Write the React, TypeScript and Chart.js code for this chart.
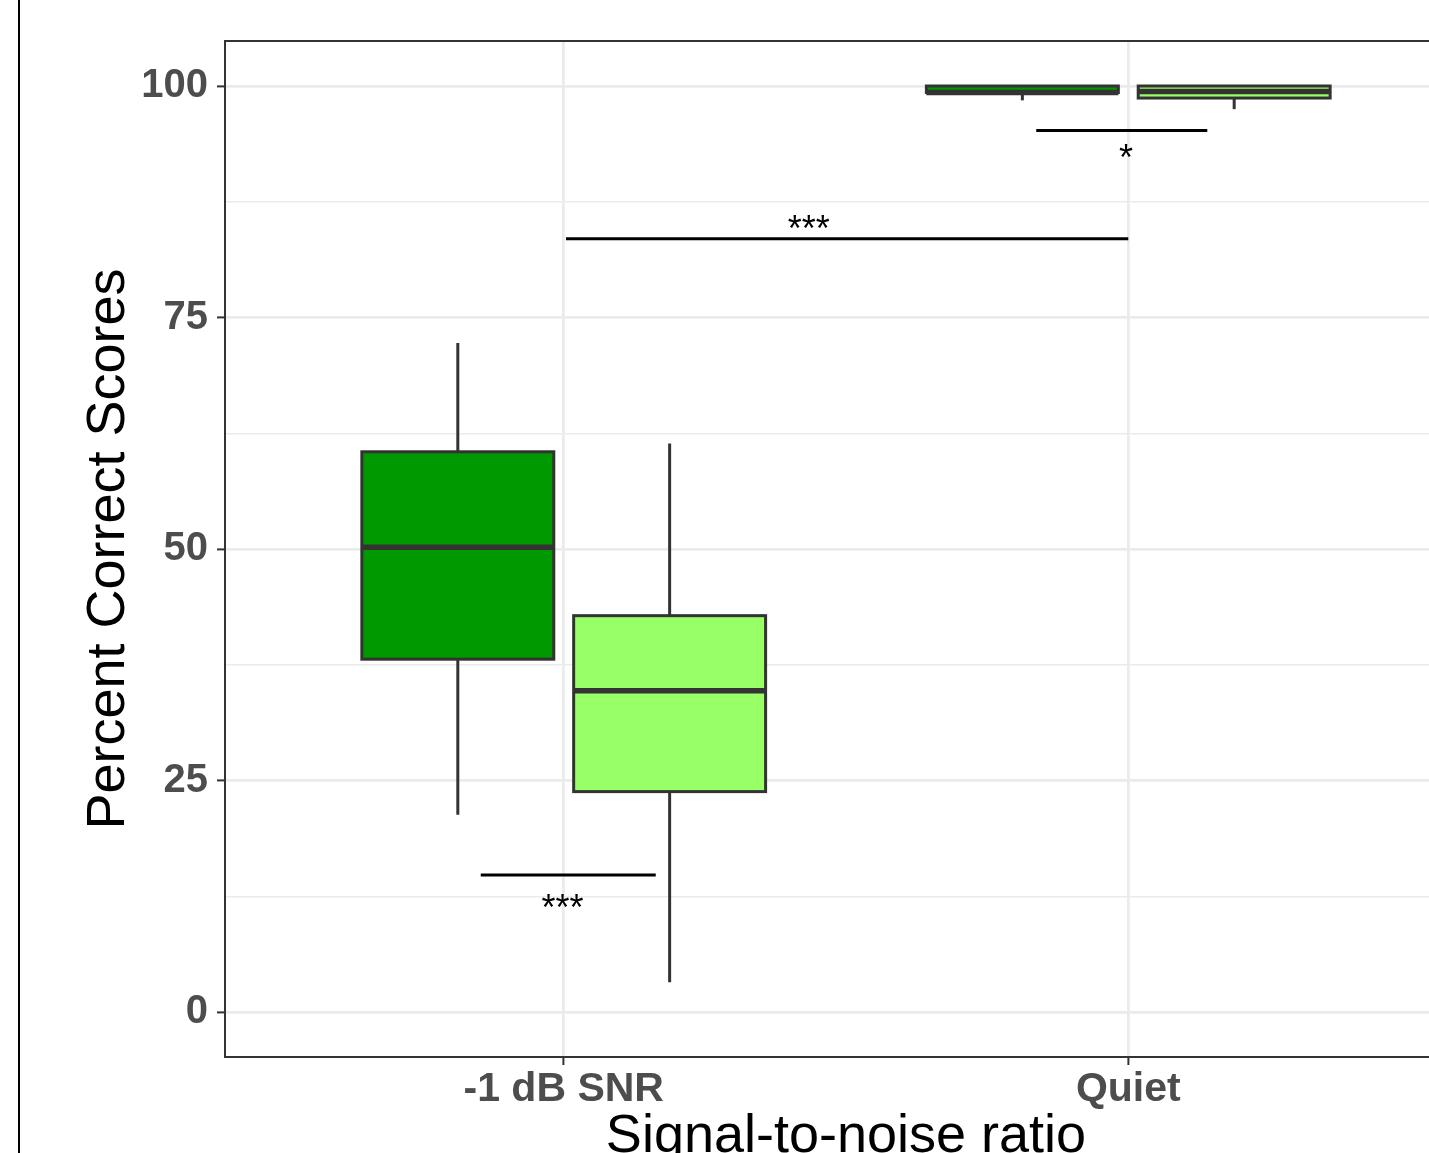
import React, { useEffect, useRef } from 'react';
import { Chart, registerables } from 'chart.js';

Chart.register(...registerables);

// ---- data ----
const categories = ['-1 dB SNR', 'Quiet'];

const darkMin = [21.3, 98.45];
const darkQ1 = [38.1, 99.3];
const darkMedian = [50.2, 99.3];
const darkQ3 = [60.5, 100];
const darkMax = [72.25, 100];

const lightMin = [3.2, 97.5];
const lightQ1 = [23.8, 98.7];
const lightMedian = [34.7, 99.4];
const lightQ3 = [42.8, 100];
const lightMax = [61.4, 100];

const yTickValues = [0, 25, 50, 75, 100];
const yMinorValues = [12.5, 37.5, 62.5, 87.5];

const sigLabels = ['***', '***', '*'];
const sigStart = [0.853, 1.004, 1.837];
const sigEnd = [1.163, 2.0, 2.14];
const sigLevel = [14.8, 83.5, 95.2];
const sigLabelX = [0.998, 1.434, 1.996];
const sigLabelY = [11.0, 84.3, 92.0];

// ---- styles ----
const DODGE = 0.1876;
const BOX_W = 0.34;
const DARK = '#009900';
const LIGHT = '#99FF66';
const EDGE = '#333333';
const FONT = '"Liberation Sans", Arial, Helvetica, sans-serif';

const boxPlugin = {
  id: 'boxes',
  afterDatasetsDraw(chart: any) {
    const { ctx, scales } = chart;
    const x = scales.x;
    const y = scales.y;
    const groups = [
      { fill: DARK, off: -DODGE, min: darkMin, q1: darkQ1, med: darkMedian, q3: darkQ3, max: darkMax },
      { fill: LIGHT, off: DODGE, min: lightMin, q1: lightQ1, med: lightMedian, q3: lightQ3, max: lightMax },
    ];
    ctx.save();
    groups.forEach((g) => {
      categories.forEach((_, i) => {
        const cx = i + 1 + g.off;
        const xl = x.getPixelForValue(cx - BOX_W / 2);
        const xr = x.getPixelForValue(cx + BOX_W / 2);
        const xc = x.getPixelForValue(cx);
        const yMax = y.getPixelForValue(g.max[i]);
        const yMin = y.getPixelForValue(g.min[i]);
        const yQ3 = y.getPixelForValue(g.q3[i]);
        const yQ1 = y.getPixelForValue(g.q1[i]);
        const yMed = y.getPixelForValue(g.med[i]);
        ctx.strokeStyle = EDGE;
        ctx.lineWidth = 3;
        ctx.lineCap = 'butt';
        ctx.beginPath();
        ctx.moveTo(xc, yQ3);
        ctx.lineTo(xc, yMax);
        ctx.moveTo(xc, yQ1);
        ctx.lineTo(xc, yMin);
        ctx.stroke();
        ctx.fillStyle = g.fill;
        ctx.fillRect(xl, yQ3, xr - xl, yQ1 - yQ3);
        ctx.strokeRect(xl, yQ3, xr - xl, yQ1 - yQ3);
        ctx.lineWidth = 5.5;
        ctx.beginPath();
        ctx.moveTo(xl, yMed);
        ctx.lineTo(xr, yMed);
        ctx.stroke();
      });
    });
    ctx.fillStyle = '#000000';
    ctx.font = `36px ${FONT}`;
    ctx.textAlign = 'center';
    ctx.textBaseline = 'middle';
    sigLabels.forEach((t, i) => {
      ctx.fillText(t, x.getPixelForValue(sigLabelX[i]), y.getPixelForValue(sigLabelY[i]));
    });
    ctx.restore();
  },
  afterDraw(chart: any) {
    const { ctx, chartArea: a } = chart;
    ctx.save();
    ctx.strokeStyle = EDGE;
    ctx.lineWidth = 2;
    ctx.strokeRect(a.left, a.top, a.right - a.left, a.bottom - a.top);
    ctx.restore();
  },
};

export default function App() {
  const ref = useRef<HTMLCanvasElement | null>(null);

  useEffect(() => {
    if (!ref.current) return;
    const datasets = sigLabels.map((_, i) => ({
      data: [
        { x: sigStart[i], y: sigLevel[i] },
        { x: sigEnd[i], y: sigLevel[i] },
      ],
      showLine: true,
      borderColor: '#000000',
      borderWidth: 3,
      pointRadius: 0,
      fill: false,
    }));
    const chart = new Chart(ref.current, {
      type: 'scatter',
      data: { datasets },
      options: {
        animation: false,
        responsive: false,
        devicePixelRatio: 1,
        layout: { padding: { top: 41, left: 0, right: 23, bottom: 0 } },
        plugins: { legend: { display: false }, tooltip: { enabled: false } },
        scales: {
          x: {
            type: 'linear',
            min: 0.4,
            max: 2.6,
            afterBuildTicks: (s: any) => {
              s.ticks = categories.map((_, i) => ({ value: i + 1 }));
            },
            afterFit: (s: any) => {
              s.height = 143;
            },
            ticks: {
              autoSkip: false,
              maxRotation: 0,
              padding: 0,
              color: '#4D4D4D',
              font: { family: FONT, size: 41, weight: 'bold' },
              callback: (v: any) => categories[Math.round(Number(v)) - 1],
            },
            grid: {
              color: '#EBEBEB',
              lineWidth: 2.8,
              tickLength: 8,
              tickColor: EDGE,
              tickWidth: 2,
            },
            border: { display: false },
            title: {
              display: true,
              text: 'Signal-to-noise ratio',
              color: '#000000',
              font: { family: FONT, size: 54, weight: 'normal' },
              padding: { top: 0, bottom: 30.7 },
            },
          },
          y: {
            type: 'linear',
            min: -4.86,
            max: 104.86,
            afterBuildTicks: (s: any) => {
              s.ticks = [...yTickValues, ...yMinorValues]
                .sort((a, b) => a - b)
                .map((v) => ({ value: v }));
            },
            afterFit: (s: any) => {
              s.width = 225;
            },
            ticks: {
              autoSkip: false,
              padding: 9,
              color: '#4D4D4D',
              font: { family: FONT, size: 40, weight: 'bold' },
              callback: (v: any) => (yTickValues.includes(Number(v)) ? String(v) : ''),
            },
            grid: {
              color: '#EBEBEB',
              lineWidth: (c: any) => (c.tick && yTickValues.includes(c.tick.value) ? 2.8 : 1.4),
              tickLength: 8,
              tickColor: (c: any) =>
                c.tick && yTickValues.includes(c.tick.value) ? EDGE : 'rgba(0,0,0,0)',
              tickWidth: 2,
            },
            border: { display: false },
            title: {
              display: true,
              text: 'Percent Correct Scores',
              color: '#000000',
              font: { family: FONT, size: 54, weight: 'normal' },
              padding: { top: 77, bottom: 0 },
            },
          },
        },
      },
      plugins: [boxPlugin],
    } as any);
    return () => chart.destroy();
  }, []);

  return (
    <div
      style={{
        position: 'fixed',
        left: 0,
        top: 0,
        width: 1429,
        height: 1153,
        overflow: 'hidden',
        background: '#ffffff',
      }}
    >
      <div
        style={{
          position: 'absolute',
          left: 18,
          top: 0,
          width: 2,
          height: 1153,
          background: '#000000',
        }}
      />
      <canvas
        ref={ref}
        width={1490}
        height={1200}
        style={{ position: 'absolute', left: 0, top: 0, width: 1490, height: 1200 }}
      />
    </div>
  );
}
